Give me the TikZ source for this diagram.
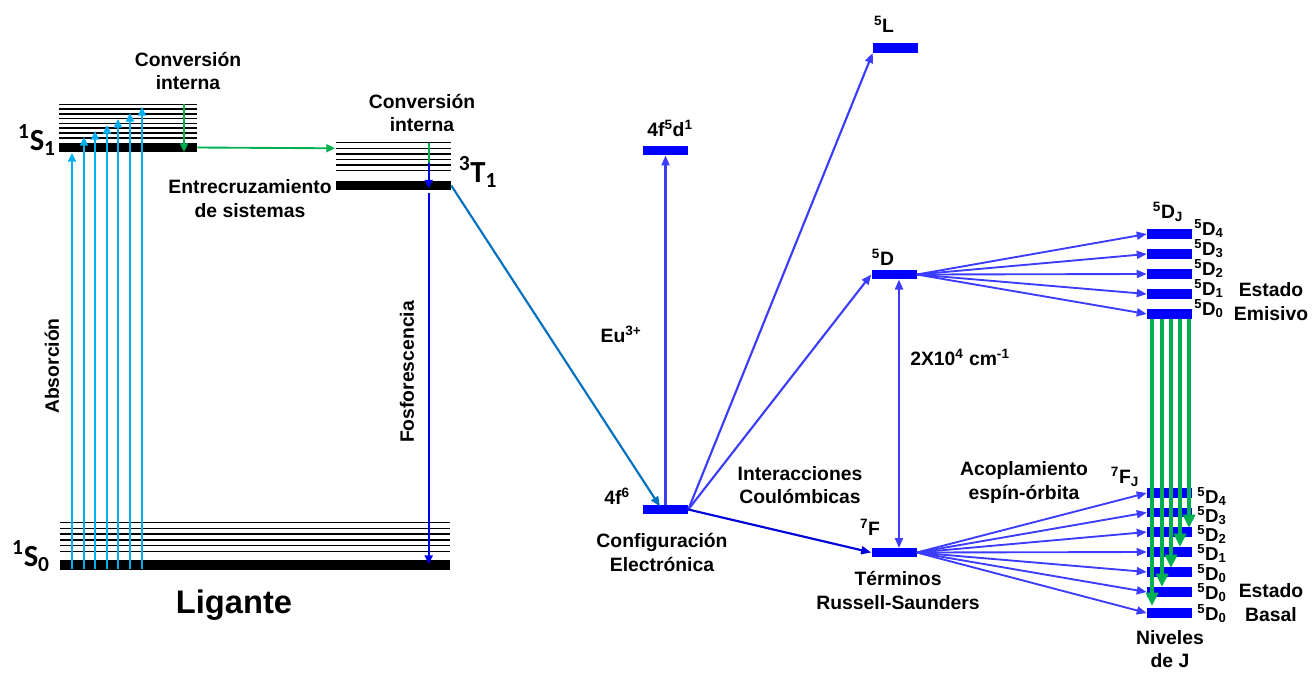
\documentclass[tikz,border=0pt]{standalone}
\usepackage{fontspec}
\setmainfont{Liberation Sans}
\newfontfamily\calfont{Carlito}
\usetikzlibrary{arrows.meta}
\definecolor{cyanA}{RGB}{0,176,240}
\definecolor{greenA}{RGB}{0,176,80}
\definecolor{blueBar}{RGB}{0,0,255}
\definecolor{euBlue}{RGB}{60,60,255}
\definecolor{steel}{RGB}{0,112,192}
\definecolor{fosBlue}{RGB}{0,0,235}
\begin{document}
\begin{tikzpicture}[x=0.75pt,y=-0.75pt,
  lbl/.style={font=\fontsize{14.5pt}{17.5pt}\selectfont\bfseries, inner sep=0pt, align=center},
  lvl/.style={font=\fontsize{14pt}{15pt}\selectfont\bfseries, inner sep=0pt, anchor=base west},
  big/.style={font=\calfont\fontsize{23pt}{23pt}\selectfont\bfseries, inner sep=0pt},
  blackbar/.style={fill=black, inner sep=0pt},
  eubar/.style={fill=blueBar, inner sep=0pt, minimum width=33.75pt, minimum height=7pt},
  thinlvl/.style={line width=1.1pt},
  cyanarr/.style={draw=cyanA, line width=1.5pt, -{Triangle[length=6.5pt,width=6pt]}},
  grnarr/.style={draw=greenA, line width=1.4pt, -{Triangle[length=6.5pt,width=6pt]}},
  euarr/.style={draw=euBlue, line width=1.6pt, -{Triangle[length=7.5pt,width=6pt]}},
  bigarr/.style={draw=greenA, line width=3pt, -{Triangle[length=10pt,width=9pt]}}
]
\useasboundingbox (0,0) rectangle (1312,672);

% ---------------- Ligand ----------------
\foreach \y in {104.3,109,114,118.7,123.3,128,133,138}
  \draw[thinlvl] (59,\y) -- (197,\y);
\node[blackbar, minimum width=103.5pt, minimum height=6.75pt] (S1) at (128,147.5) {};
\foreach \y in {522.3,528.3,534,540,545.7,551.3}
  \draw[thinlvl] (60,\y) -- (450,\y);
\node[blackbar, minimum width=292.5pt, minimum height=7.5pt] (S0) at (255,565) {};
\foreach \y in {142.7,148.3,154,159.3,165,170.7}
  \draw[thinlvl] (336,\y) -- (451,\y);
\node[blackbar, minimum width=86.25pt, minimum height=6.75pt] (T1) at (393.5,185.5) {};

% absorption arrows
\foreach \x/\y [count=\i] in {72/153,84/137,95/131,107/125,118/119,130/113,142/107}{
  \coordinate (ab\i) at (\x,569);
  \coordinate (at\i) at (\x,\y);
  \draw[cyanarr] (ab\i) -- (at\i);
}
% internal conversion S1
\coordinate (icS1a) at (184,104);
\coordinate (icS1b) at (184,152);
\draw[grnarr] (icS1a) -- (icS1b);
% intersystem crossing
\coordinate (iscEnd) at (335,148.3);
\draw[grnarr] (S1.east) -- (iscEnd);
% internal conversion T1
\coordinate (icT1a) at (428.7,142.7);
\coordinate (icT1b) at (428.7,163);
\coordinate (icT1c) at (428.7,188.5);
\draw[draw=greenA, line width=1.4pt] (icT1a) -- (icT1b);
\draw[draw=fosBlue, line width=1.4pt, -{Triangle[length=6.5pt,width=6pt]}] (icT1b) -- (icT1c);
% phosphorescence
\coordinate (fosA) at (428.7,193);
\coordinate (fosB) at (428.7,564);
\draw[draw=fosBlue, line width=1.6pt, -{Triangle[length=6.5pt,width=6pt]}] (fosA) -- (fosB);

% ligand labels
\node[big] (lS1) at (37,140) {\textsuperscript{1}S\textsubscript{1}};
\node[big] (lS0) at (31,556) {\textsuperscript{1}S\textsubscript{0}};
\node[big] (lT1) at (478,172) {\textsuperscript{3}T\textsubscript{1}};
\node[lbl] (tCI1) at (188,71) {Conversión\\interna};
\node[lbl] (tCI2) at (422,113) {Conversión\\interna};
\node[lbl] (tISC) at (250,198.5) {Entrecruzamiento\\de sistemas};
\node[lbl, rotate=90] (tAbs) at (52,366) {Absorción};
\node[lbl, rotate=90] (tFos) at (407,372) {Fosforescencia};
\node[font=\fontsize{24.5pt}{24pt}\selectfont\bfseries, inner sep=0pt] (tLig) at (234,605) {Ligante};

% ---------------- Eu3+ ----------------
\node[eubar] (f6) at (665.5,509.5) {};
\node[eubar] (fd) at (665.5,150.5) {};
\node[eubar] (L5) at (895.5,48) {};
\node[eubar] (D5) at (894,274.5) {};
\node[eubar] (F7) at (894,552.5) {};
\foreach \y [count=\i] in {234,254,274,294,314}
  \node[eubar] (DJ\i) at (1169.5,\y) {};
\foreach \y [count=\i] in {493,512.5,532,552,572,592,613}
  \node[eubar] (FJ\i) at (1169.5,\y) {};

% ligand -> Eu
\coordinate (f6in) at (660,506.5);
\draw[draw=steel, line width=1.6pt, -{Triangle[length=7.5pt,width=6pt]}] (T1.east) -- (f6in);

\draw[euarr] (f6.north) -- (fd.south);
\draw[euarr] (f6.east) -- (L5.south west);
\draw[euarr] (f6.east) -- (D5.west);
\draw[draw=blue!85!black, line width=1.6pt, -{Triangle[length=7.5pt,width=6pt]}] (f6.east) -- (F7.west);
\coordinate (dblA) at (899,279.5);
\coordinate (dblB) at (899,548);
\draw[draw=euBlue, line width=1.6pt, {Triangle[length=7.5pt,width=6pt]}-{Triangle[length=7.5pt,width=6pt]}] (dblA) -- (dblB);
\foreach \i in {1,...,5}
  \draw[euarr, line width=1.4pt] (D5.east) -- (DJ\i.west);
\foreach \i in {1,...,7}
  \draw[euarr, line width=1.4pt] (F7.east) -- (FJ\i.west);

% emission arrows
\foreach \x/\y [count=\i] in {1152/606,1162/587,1171/568,1180/547,1189/528}{
  \coordinate (em\i a) at (\x,319);
  \coordinate (em\i b) at (\x,\y);
  \draw[bigarr] (em\i a) -- (em\i b);
}

% Eu labels
\node[lbl] (tfd) at (670,128) {4f\textsuperscript{5}d\textsuperscript{1}};
\node[lbl] (tL5) at (884,24) {\textsuperscript{5}L};
\node[lbl] (tEu) at (621,334) {Eu\textsuperscript{3+}};
\node[lbl] (tD5) at (883,257) {\textsuperscript{5}D};
\node[lbl] (tcm) at (960,357) {2X10\textsuperscript{4} cm\textsuperscript{-1}};
\node[lbl] (tf6) at (617,496) {4f\textsuperscript{6}};
\node[lbl] (tConf) at (662,552.5) {Configuración\\Electrónica};
\node[lbl] (tInt) at (800,485) {Interacciones\\Coulómbicas};
\node[lbl] (tF7) at (870,527) {\textsuperscript{7}F};
\node[lbl] (tRS) at (898,590.5) {Términos\\Russell-Saunders};
\node[lbl] (tAco) at (1024,482.5) {Acoplamiento\\espín-órbita};
\node[lbl] (tFJ) at (1125,477) {\textsuperscript{7}F\textsubscript{J}};
\node[lbl] (tDJ) at (1168,212) {\textsuperscript{5}D\textsubscript{J}};
\node[lbl] (tEm) at (1271,301.5) {Estado\\Emisivo};
\node[lbl] (tBa) at (1271,602.5) {Estado\\Basal};
\node[lbl] (tNi) at (1170,649) {Niveles\\de J};

\foreach \j/\y [count=\i] in {4/235,3/255,2/275,1/295,0/315}
  \node[lvl] (lD\i) at (1194,\y) {\textsuperscript{5}D\textsubscript{\j}};
\foreach \j/\y [count=\i] in {4/503,3/522,2/541,1/560,0/580,0/599,0/620}
  \node[lvl] (lF\i) at (1197,\y) {\textsuperscript{5}D\textsubscript{\j}};
\end{tikzpicture}
\end{document}
